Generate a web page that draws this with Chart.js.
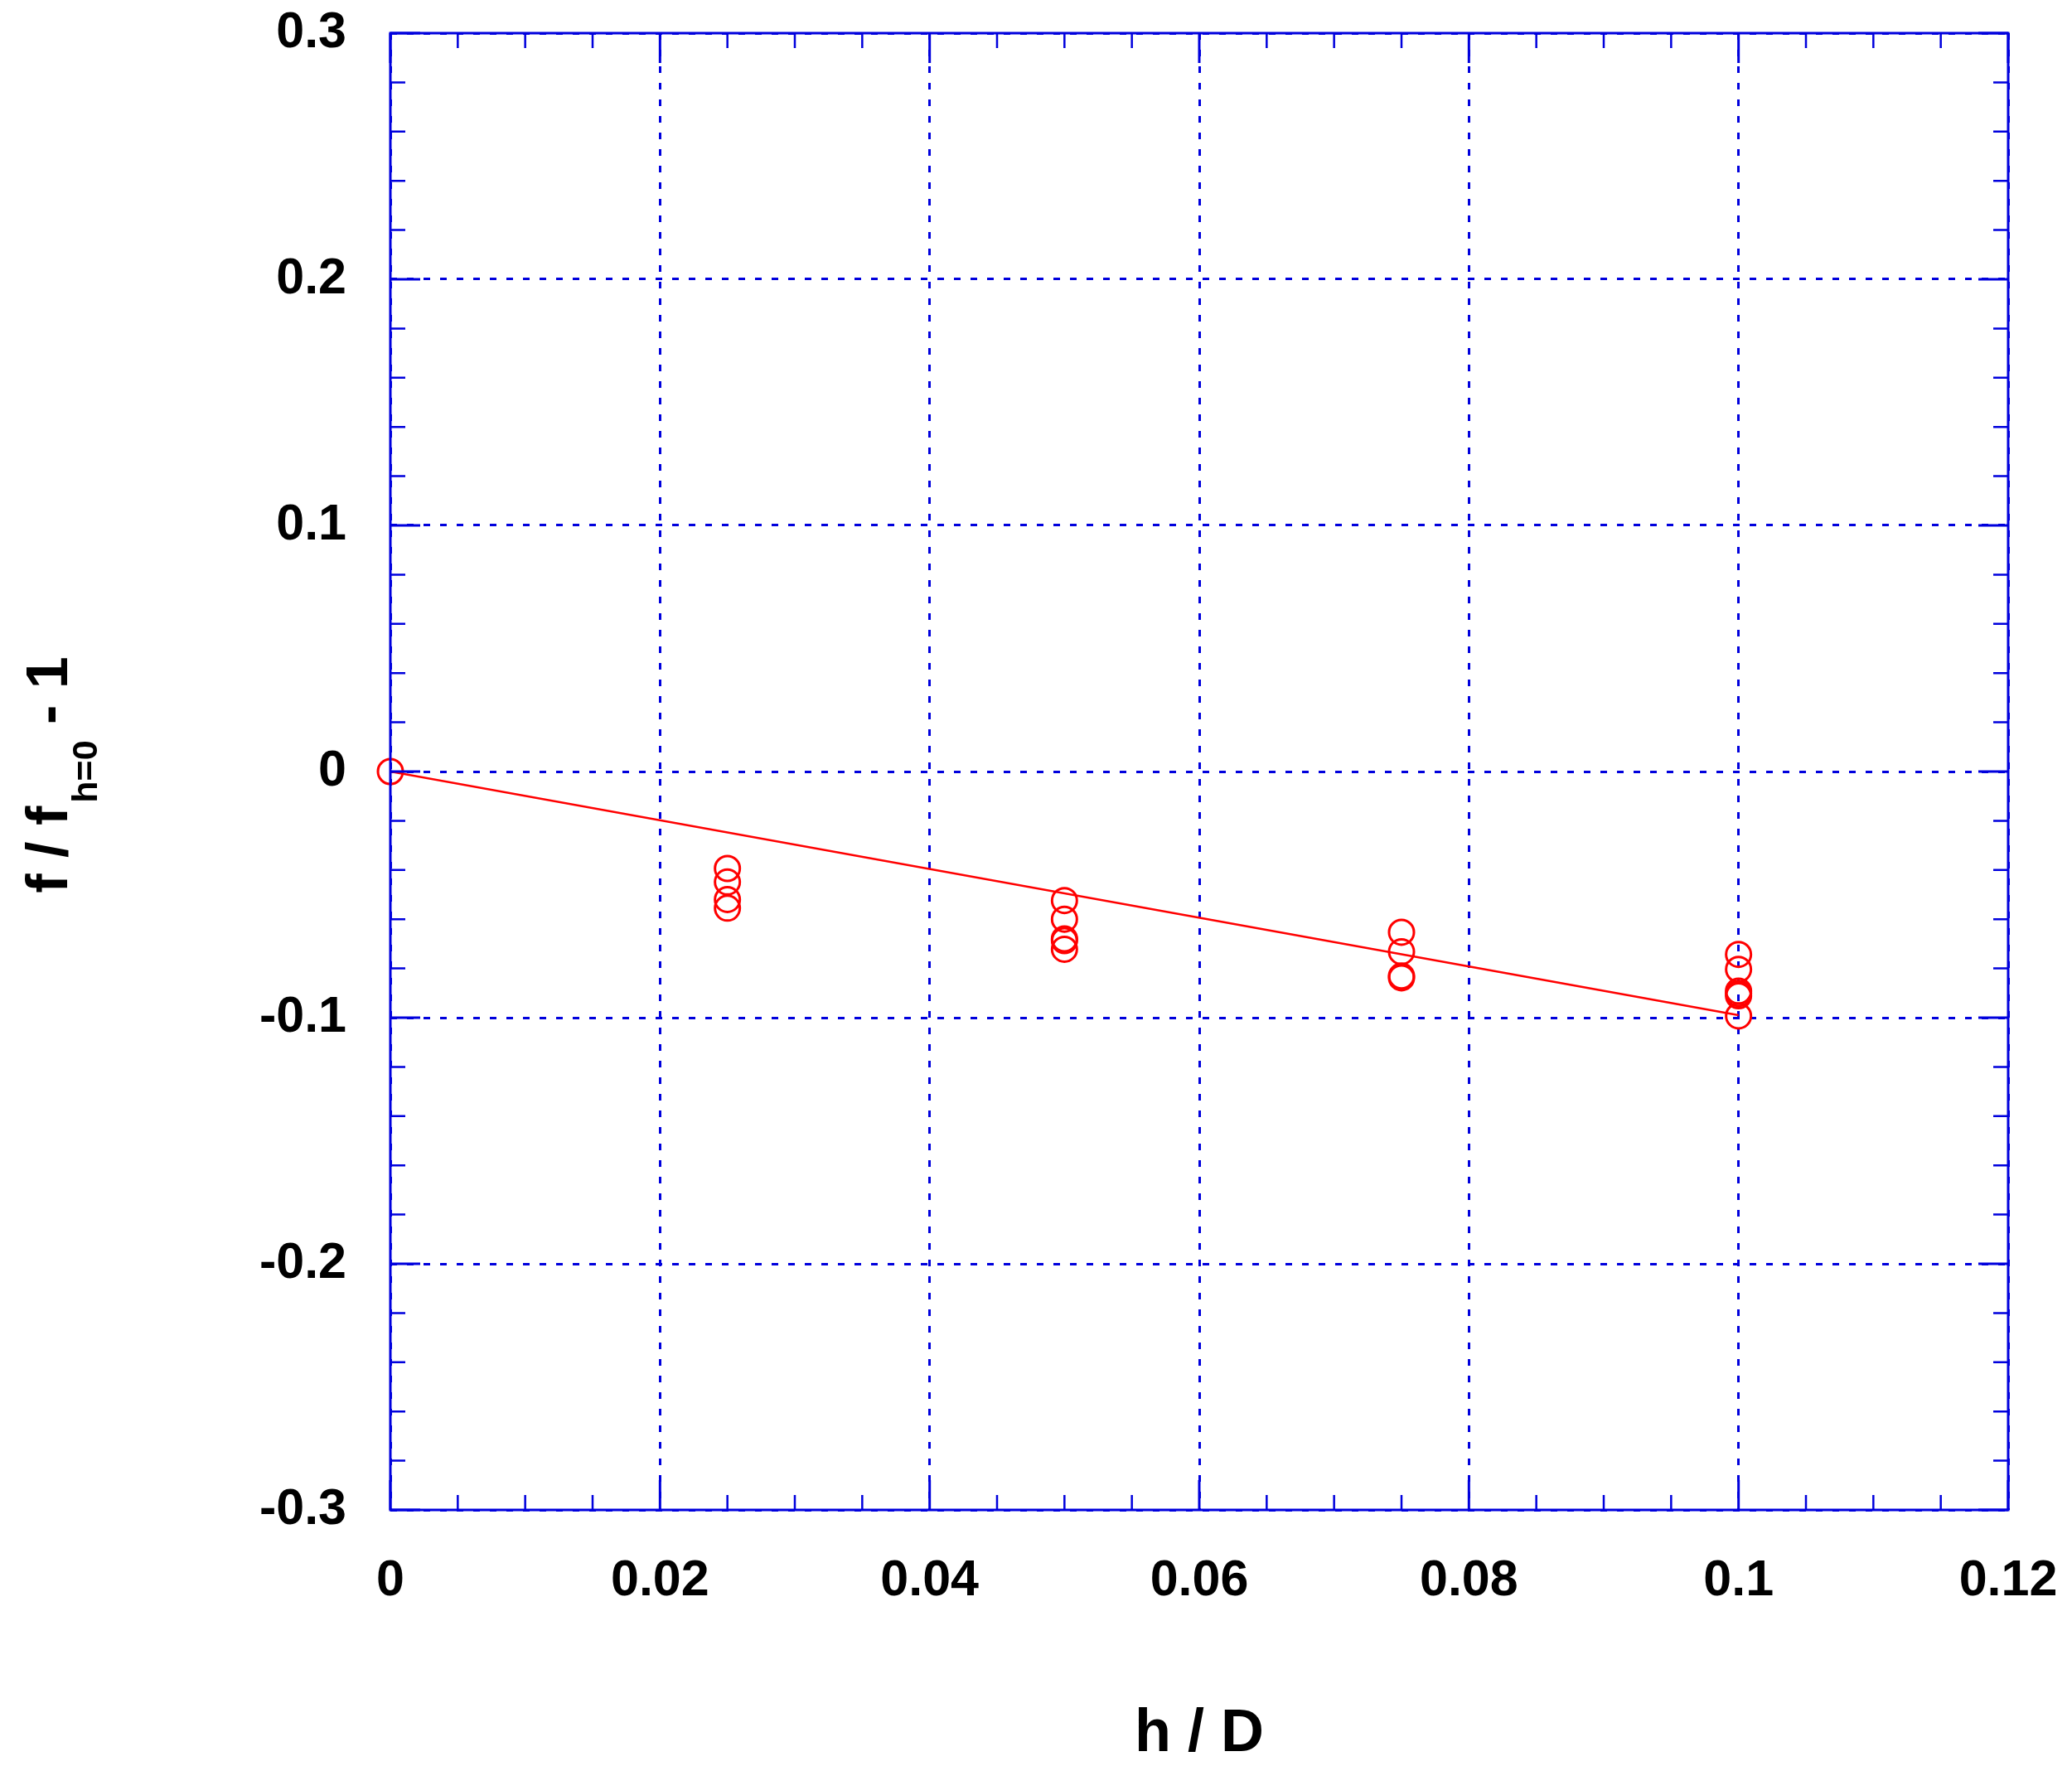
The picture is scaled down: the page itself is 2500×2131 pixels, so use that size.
<!DOCTYPE html>
<html>
<head>
<meta charset="utf-8">
<script src="https://cdn.jsdelivr.net/npm/chart.js@4.4.1/dist/chart.umd.min.js"></script>
<style>
  html, body { margin: 0; padding: 0; background: #fff; }
  #wrap { width: 2500px; height: 2131px; }
</style>
</head>
<body>
<div id="wrap"><canvas id="c" width="2500" height="2131"></canvas></div>
<script>
// measured points: h/D against f/f(h=0) - 1
const hD = [0,
    0.025, 0.025, 0.025, 0.025,
    0.05, 0.05, 0.05, 0.05, 0.05,
    0.075, 0.075, 0.075, 0.075,
    0.1, 0.1, 0.1, 0.1, 0.1, 0.1];
const fRatio = [0,
    -0.0394, -0.0449, -0.0520, -0.0555,
    -0.0524, -0.0600, -0.0680, -0.0687, -0.0722,
    -0.0653, -0.0732, -0.0831, -0.0838,
    -0.0743, -0.0804, -0.0892, -0.0902, -0.0911, -0.0993];

// fitted line
const fitX = [0, 0.1];
const fitY = [0, -0.099];

// tick labels
const xTicks = [0, 0.02, 0.04, 0.06, 0.08, 0.1, 0.12];
const yTicks = [-0.3, -0.2, -0.1, 0, 0.1, 0.2, 0.3];
const xMinorStep = 0.005;
const yMinorStep = 0.02;

const BLUE = '#0000dd';
const RED = '#ff0000';
const FONT = '"Liberation Sans", Arial, Helvetica, sans-serif';

const toPoints = (xs, ys) => xs.map((x, i) => ({ x: x, y: ys[i] }));

// frame, inward ticks and the two axis titles
const framePlugin = {
    id: 'frame',
    afterDatasetsDraw(chart) {
        const ctx = chart.ctx;
        const a = chart.chartArea;
        const sx = chart.scales.x;
        const sy = chart.scales.y;
        ctx.save();
        ctx.strokeStyle = BLUE;
        ctx.lineCap = 'butt';

        // minor / major ticks along x (bottom and top)
        const nx = Math.round((sx.max - sx.min) / xMinorStep);
        for (let i = 0; i <= nx; i++) {
            const px = sx.getPixelForValue(sx.min + i * xMinorStep);
            const major = i % 4 === 0;
            const len = major ? 36 : 18;
            ctx.lineWidth = major ? 3 : 2.5;
            ctx.beginPath();
            ctx.moveTo(px, a.bottom); ctx.lineTo(px, a.bottom - len);
            ctx.moveTo(px, a.top); ctx.lineTo(px, a.top + len);
            ctx.stroke();
        }
        // minor / major ticks along y (left and right)
        const ny = Math.round((sy.max - sy.min) / yMinorStep);
        for (let i = 0; i <= ny; i++) {
            const py = sy.getPixelForValue(sy.min + i * yMinorStep);
            const major = i % 5 === 0;
            const len = major ? 36 : 18;
            ctx.lineWidth = major ? 3 : 2.5;
            ctx.beginPath();
            ctx.moveTo(a.left, py); ctx.lineTo(a.left + len, py);
            ctx.moveTo(a.right, py); ctx.lineTo(a.right - len, py);
            ctx.stroke();
        }

        // frame
        ctx.lineWidth = 3;
        ctx.strokeRect(a.left, a.top, a.right - a.left, a.bottom - a.top);

        // x title
        ctx.fillStyle = '#000';
        ctx.textAlign = 'center';
        ctx.textBaseline = 'alphabetic';
        ctx.font = 'bold 72px ' + FONT;
        ctx.fillText('h / D', (a.left + a.right) / 2, 2113);

        // y title with subscript, rotated
        const mainFont = 'bold 70px ' + FONT;
        const subFont = 'bold 43px ' + FONT;
        ctx.font = mainFont;
        const w1 = ctx.measureText('f / f').width;
        const w3 = ctx.measureText(' - 1').width;
        ctx.font = subFont;
        const w2 = ctx.measureText('h=0').width;
        const total = w1 + 4 + w2 + w3;
        const cy = (a.top + a.bottom) / 2 + 4;
        ctx.translate(81, cy + total / 2);
        ctx.rotate(-Math.PI / 2);
        ctx.textAlign = 'left';
        ctx.font = mainFont;
        ctx.fillText('f / f', 0, 0);
        ctx.font = subFont;
        ctx.fillText('h=0', w1 + 4, 36);
        ctx.font = mainFont;
        ctx.fillText(' - 1', w1 + 4 + w2, 0);
        ctx.restore();
    }
};

new Chart(document.getElementById('c').getContext('2d'), {
    type: 'scatter',
    data: {
        datasets: [
            {
                label: 'fit',
                data: toPoints(fitX, fitY),
                showLine: true,
                borderColor: RED,
                borderWidth: 2.5,
                pointRadius: 0,
                fill: false
            },
            {
                label: 'data',
                data: toPoints(hD, fRatio),
                showLine: false,
                pointStyle: 'circle',
                pointRadius: 15,
                pointBorderWidth: 3,
                pointBorderColor: RED,
                pointBackgroundColor: 'rgba(0,0,0,0)',
                clip: false
            }
        ]
    },
    options: {
        responsive: false,
        animation: false,
        devicePixelRatio: 1,
        layout: { autoPadding: false, padding: { top: 40, right: 77, left: 0, bottom: 0 } },
        plugins: {
            legend: { display: false },
            tooltip: { enabled: false }
        },
        scales: {
            x: {
                type: 'linear',
                min: 0,
                max: 0.12,
                afterBuildTicks: s => { s.ticks = xTicks.map(v => ({ value: v })); },
                afterFit: s => {
                    s.height = 309;
                    s.paddingLeft = 0; s.paddingRight = 0;
                    s.paddingTop = 0; s.paddingBottom = 0;
                },
                grid: { color: BLUE, lineWidth: 3, drawTicks: false },
                border: { display: false, dash: [8, 12] },
                ticks: {
                    padding: 50,
                    color: '#000',
                    font: { family: FONT, size: 61, weight: 'bold' },
                    maxRotation: 0,
                    callback: v => String(v)
                }
            },
            y: {
                type: 'linear',
                min: -0.3,
                max: 0.3,
                afterBuildTicks: s => { s.ticks = yTicks.map(v => ({ value: v })); },
                afterFit: s => {
                    s.width = 471;
                    s.paddingLeft = 0; s.paddingRight = 0;
                    s.paddingTop = 0; s.paddingBottom = 0;
                },
                grid: { color: BLUE, lineWidth: 3, drawTicks: false },
                border: { display: false, dash: [8, 12] },
                ticks: {
                    padding: 53,
                    color: '#000',
                    font: { family: FONT, size: 61, weight: 'bold' },
                    callback: v => String(v)
                }
            }
        }
    },
    plugins: [framePlugin]
});
</script>
</body>
</html>
